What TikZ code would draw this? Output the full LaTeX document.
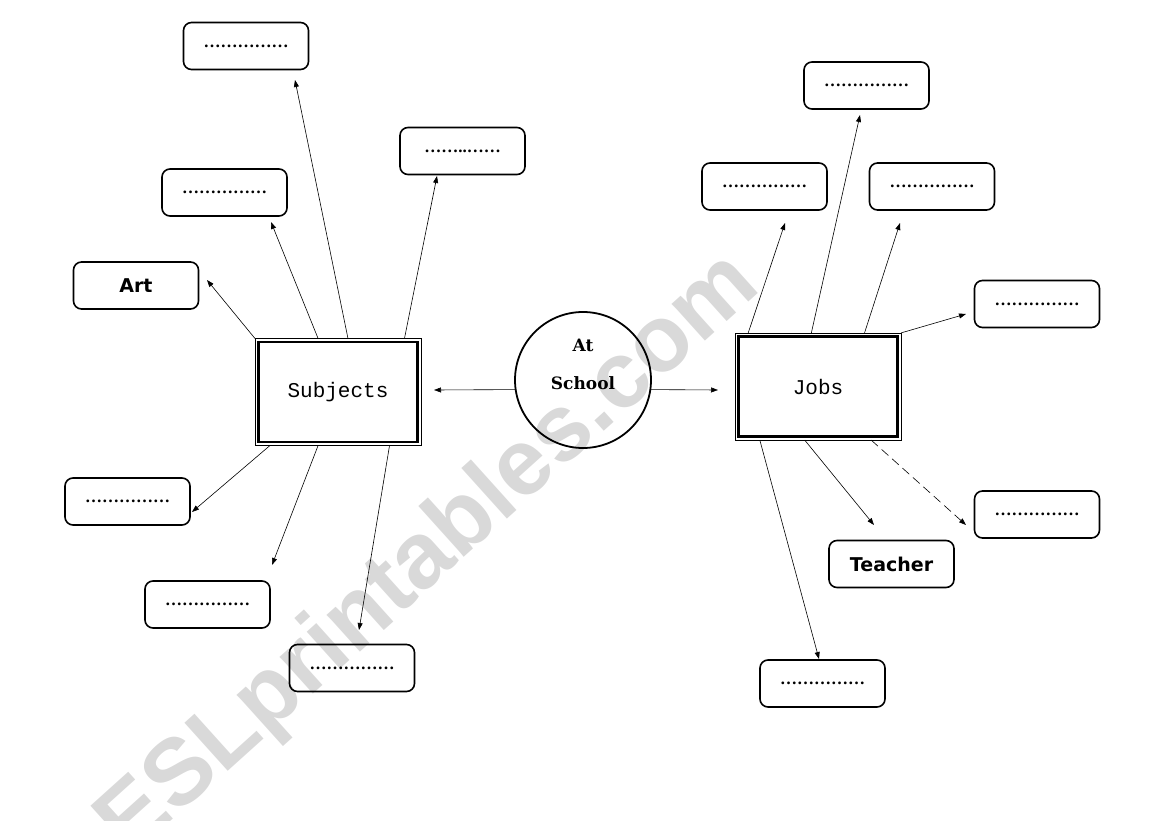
\documentclass[tikz,border=0pt]{standalone}
\usepackage{fontspec}
\setmainfont{Liberation Serif}
\setmonofont{Liberation Mono}
\newfontfamily\boldsans{DejaVu Sans}
\newfontfamily\slabfont{DejaVu Serif}
\newfontfamily\markfont{Liberation Sans}
\usetikzlibrary{arrows.meta,positioning,calc}

\begin{document}
\begin{tikzpicture}[x=1pt, y=-1pt,
    blank/.style={draw, line width=1.6pt, rounded corners=8pt, minimum width=125pt, minimum height=47pt, inner sep=0pt, font=\bfseries\fontsize{17}{17}\selectfont},
    named/.style={blank, font=\boldsans\bfseries\fontsize{19}{19}\selectfont},
    topic/.style={draw, line width=2.4pt, minimum width=159pt, minimum height=100pt, outer sep=3.6pt, font=\ttfamily\fontsize{21}{21}\selectfont},
    arr/.style={-{Triangle[length=7pt, width=5pt]}, line width=0.6pt}
]
\useasboundingbox (0,0) rectangle (1169,821);

% watermark, behind everything
\node[text=gray!30, rotate=42, font=\markfont\bfseries\fontsize{94}{94}\selectfont] (mark) at (430,556) {ESLprintables.com};

% centre
\node[draw, circle, line width=1.8pt, minimum size=136pt, inner sep=0pt] (school) at (583,380) {};
\node[font=\slabfont\bfseries\fontsize{17}{17}\selectfont] (at) at (583,345) {At};
\node[font=\slabfont\bfseries\fontsize{17}{17}\selectfont] (schl) at (583,383) {School};

% the two topics
\node[topic] (subj) at (338,392) {Subjects};
\node[topic] (jobs) at (818,386.5) {Jobs};
\draw[thin] (subj.south west) rectangle (subj.north east);
\draw[thin] (jobs.south west) rectangle (jobs.north east);

% boxes round Subjects
\node[blank] (s1) at (246,46) {……………};
\node[blank] (s2) at (462.5,151) {……..……};
\node[blank] (s3) at (224.5,192.5) {……………};
\node[named] (art) at (136,285.5) {Art};
\node[blank] (s5) at (127.5,501.5) {……………};
\node[blank] (s6) at (207.5,604.5) {……………};
\node[blank] (s7) at (352,668) {……………};

% boxes round Jobs
\node[blank] (j1) at (866.5,85.5) {……………};
\node[blank] (j2) at (764.5,186.5) {……………};
\node[blank] (j3) at (932,186.5) {……………};
\node[blank] (j4) at (1037,304) {……………};
\node[blank] (j5) at (1037,514.5) {……………};
\node[named] (teacher) at (891.5,564) {Teacher};
\node[blank] (j7) at (822.5,683.5) {……………};

% arrow tips
\coordinate (ts1) at (295,80);
\coordinate (ts2) at (437,176);
\coordinate (ts3) at (271,222);
\coordinate (tart) at (207,280);
\coordinate (ts5) at (192,512);
\coordinate (ts6) at (272,565);
\coordinate (ts7) at (359,630);
\coordinate (tj1) at (860,115);
\coordinate (tj2) at (785,223);
\coordinate (tj3) at (900,223);
\coordinate (tj4) at (966,314);
\coordinate (tj5) at (966,525);
\coordinate (tteach) at (874,525);
\coordinate (tj7) at (819,659);
\coordinate (tsubj) at (434,390);
\coordinate (tjobs) at (718,390);

\draw[arr] (school.188) -- (tsubj);
\draw[arr] (school.-8) -- (tjobs);

\draw[arr] ($(subj.north west)!.56!(subj.north east)$) -- (ts1);
\draw[arr] ($(subj.north west)!.90!(subj.north east)$) -- (ts2);
\draw[arr] ($(subj.north west)!.38!(subj.north east)$) -- (ts3);
\draw[arr] (subj.north west) -- (tart);
\draw[arr] ($(subj.south west)!.09!(subj.south east)$) -- (ts5);
\draw[arr] ($(subj.south west)!.38!(subj.south east)$) -- (ts6);
\draw[arr] ($(subj.south west)!.81!(subj.south east)$) -- (ts7);

\draw[arr] ($(jobs.north west)!.46!(jobs.north east)$) -- (tj1);
\draw[arr] ($(jobs.north west)!.08!(jobs.north east)$) -- (tj2);
\draw[arr] ($(jobs.north west)!.78!(jobs.north east)$) -- (tj3);
\draw[arr] (jobs.north east) -- (tj4);
\draw[arr, dash pattern=on 9pt off 5pt] ($(jobs.south west)!.82!(jobs.south east)$) -- (tj5);
\draw[arr] ($(jobs.south west)!.42!(jobs.south east)$) -- (tteach);
\draw[arr] ($(jobs.south west)!.15!(jobs.south east)$) -- (tj7);
\end{tikzpicture}
\end{document}
